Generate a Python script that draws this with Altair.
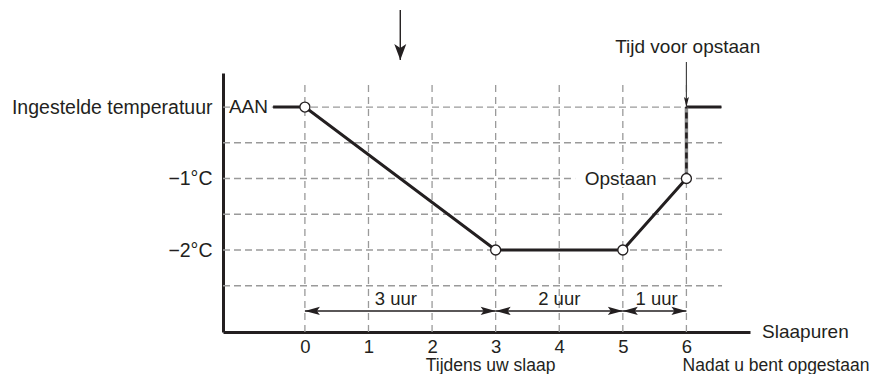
import altair as alt
import pandas as pd

# ---------------- data ----------------
X_MIN, X_MAX = -1.288, 7.0
Y_MIN, Y_MAX = -3.147, 0.476

curve_x = [-0.5, 0, 3, 5, 6]
curve_y = [0, 0, -2, -2, -1]
marker_x = [0, 3, 5, 6]
marker_y = [0, -2, -2, -1]
after_x = [6, 6.55]
after_y = [0, 0]
jump_x = [6]
jump_y0 = [-1]
jump_y1 = [0]

x_ticks = [0, 1, 2, 3, 4, 5, 6]
y_ticks = [0, -1, -2]
y_tick_labels = ["Ingestelde temperatuur", "\u22121°C", "\u22122°C"]

grid_h = [0, -0.5, -1, -1.5, -2, -2.5]
grid_h_end = 6.56
grid_v = [0, 1, 2, 3, 4, 5, 6]
grid_v_top = 0.35

span_start = [0, 3, 5]
span_end = [3, 5, 6]
span_y = -2.853
span_labels = ["3 uur", "2 uur", "1 uur"]
span_label_x = [1.43, 4.0, 5.53]
span_label_y = -2.685

ann_text = ["AAN", "Opstaan", "Tijd voor opstaan", "Slaapuren"]
ann_x = [-0.58, 5.53, 6.02, 7.19]
ann_y = [0, -1, 0.839, -3.147]
ann_align = ["right", "right", "center", "left"]

sub_text = ["Tijdens uw slaap", "Nadat u bent opgestaan"]
sub_x = [2.92, 5.94]
sub_y = [-3.62, -3.62]
sub_align = ["center", "left"]

# white boxes behind in-plot labels
box_x0 = [-1.17, 4.25]
box_x1 = [-0.52, 5.6]
box_y0 = [-0.12, -0.88]
box_y1 = [0.12, -1.12]

# vertical pointer arrows (start -> tip)
big_arrow_x = [1.5]
big_arrow_y0 = [1.357]
big_arrow_tip = [0.657]
small_arrow_x = [6]
small_arrow_y0 = [0.63]
small_arrow_tip = [0]

# ---------------- helpers ----------------
INK = "#231f20"
FONT = "Liberation Sans"
xs = alt.Scale(domain=[X_MIN, X_MAX], nice=False, zero=False)
ys = alt.Scale(domain=[Y_MIN, Y_MAX], nice=False, zero=False)

label_expr = ""
for v, lab in zip(y_ticks, y_tick_labels):
    label_expr += f"datum.value == {v} ? '{lab}' : "
label_expr += "''"

AXX = alt.Axis(values=x_ticks, title=None, grid=False, ticks=False, domainWidth=3,
               domainColor=INK, labelFontSize=18.5, labelPadding=5, labelColor=INK,
               labelFont=FONT, format="d")
AXY = alt.Axis(values=y_ticks, title=None, grid=False, ticks=False, domainWidth=3,
               domainColor=INK, labelFontSize=19.5, labelPadding=11, labelColor=INK,
               labelFont=FONT, labelLimit=400, labelExpr=label_expr)


def X(f):
    return alt.X(f, type="quantitative", scale=xs, axis=AXX)


def Y(f):
    return alt.Y(f, type="quantitative", scale=ys, axis=AXY)


def rules(df, **mk):
    return alt.Chart(df).mark_rule(**mk).encode(
        x=X("x0"), x2="x1", y=Y("y0"), y2="y1")


# grids
gh = pd.DataFrame({"x0": [X_MIN] * len(grid_h), "x1": [grid_h_end] * len(grid_h),
                   "y0": grid_h, "y1": grid_h})
gv = pd.DataFrame({"x0": grid_v, "x1": grid_v,
                   "y0": [Y_MIN] * len(grid_v), "y1": [grid_v_top] * len(grid_v)})
grid_h_layer = rules(gh, color="#9a9a9a", strokeWidth=1.3, strokeDash=[7, 4])
grid_v_layer = rules(gv, color="#9a9a9a", strokeWidth=1.3, strokeDash=[7, 5])

boxes = alt.Chart(pd.DataFrame({"x0": box_x0, "x1": box_x1, "y0": box_y0, "y1": box_y1})
                  ).mark_rect(color="white").encode(x=X("x0"), x2="x1", y=Y("y0"), y2="y1")

curve = alt.Chart(pd.DataFrame({"x": curve_x, "y": curve_y, "o": range(len(curve_x))})
                  ).mark_line(color=INK, strokeWidth=3).encode(
    x=X("x"), y=Y("y"), order="o:Q")

after = alt.Chart(pd.DataFrame({"x": after_x, "y": after_y})).mark_line(
    color=INK, strokeWidth=3).encode(x=X("x"), y=Y("y"))

jump_df = pd.DataFrame({"x0": jump_x, "x1": jump_x, "y0": jump_y0, "y1": jump_y1})
jump_grey = rules(jump_df, color="#8c8c8c", strokeWidth=3.5)
jump_dash = rules(jump_df, color=INK, strokeWidth=2.5, strokeDash=[6, 4])

markers = alt.Chart(pd.DataFrame({"x": marker_x, "y": marker_y})).mark_point(
    shape="circle", filled=True, fill="white", stroke=INK, strokeWidth=1.3,
    size=100, opacity=1).encode(x=X("x"), y=Y("y"))

# span arrows
spans = rules(pd.DataFrame({"x0": span_start, "x1": span_end,
                            "y0": [span_y] * 3, "y1": [span_y] * 3}),
              color=INK, strokeWidth=1.3)
HEAD = "M0,0L-0.55,-2L0,-1.6L0.55,-2Z"
left_heads = alt.Chart(pd.DataFrame({"x": span_start, "y": [span_y] * 3})).mark_point(
    shape=HEAD, filled=True, color=INK, size=225, angle=90, opacity=1,
    strokeWidth=0).encode(x=X("x"), y=Y("y"))
right_heads = alt.Chart(pd.DataFrame({"x": span_end, "y": [span_y] * 3})).mark_point(
    shape=HEAD, filled=True, color=INK, size=225, angle=270, opacity=1,
    strokeWidth=0).encode(x=X("x"), y=Y("y"))
span_text = alt.Chart(pd.DataFrame({"x": span_label_x, "y": [span_label_y] * 3,
                                    "t": span_labels})).mark_text(
    font=FONT, fontSize=18.5, color=INK, align="center", baseline="middle").encode(
    x=X("x"), y=Y("y"), text="t:N")

# pointer arrows
big_shaft = rules(pd.DataFrame({"x0": big_arrow_x, "x1": big_arrow_x,
                                "y0": big_arrow_y0, "y1": big_arrow_tip}),
                  color=INK, strokeWidth=1.4)
big_head = alt.Chart(pd.DataFrame({"x": big_arrow_x, "y": big_arrow_tip})).mark_point(
    shape="M0,0L-0.75,-2L0,-1.5L0.75,-2Z", filled=True, color=INK, size=256,
    opacity=1, strokeWidth=0).encode(x=X("x"), y=Y("y"))
small_shaft = rules(pd.DataFrame({"x0": small_arrow_x, "x1": small_arrow_x,
                                  "y0": small_arrow_y0, "y1": small_arrow_tip}),
                    color="#444444", strokeWidth=1.2)
small_head = alt.Chart(pd.DataFrame({"x": small_arrow_x, "y": small_arrow_tip})).mark_point(
    shape="M0,0L-0.5,-2L0,-1.6L0.5,-2Z", filled=True, color=INK, size=100,
    opacity=1, strokeWidth=0).encode(x=X("x"), y=Y("y"))

ann_df = pd.DataFrame({"x": ann_x, "y": ann_y, "t": ann_text, "a": ann_align})
sub_df = pd.DataFrame({"x": sub_x, "y": sub_y, "t": sub_text, "a": sub_align})


def text_layer(df, al, size):
    return alt.Chart(df).transform_filter(alt.datum.a == al).mark_text(
        font=FONT, fontSize=size, color=INK, align=al, baseline="middle").encode(
        x=X("x"), y=Y("y"), text="t:N")


chart = alt.layer(
    grid_h_layer, grid_v_layer, boxes, curve, after, jump_grey, jump_dash,
    markers, spans, left_heads, right_heads, span_text,
    big_shaft, big_head, small_shaft, small_head,
    text_layer(ann_df, "left", 19), text_layer(ann_df, "center", 19),
    text_layer(ann_df, "right", 19),
    text_layer(sub_df, "left", 17.5), text_layer(sub_df, "center", 17.5),
).properties(
    width=527, height=259,
    autosize=alt.AutoSizeParams(type="none"),
    padding={"left": 215, "top": 65, "right": 135, "bottom": 42},
    background="white",
).configure_view(stroke=None)

chart.save("out.html", embed_options={"renderer": "svg", "actions": False})
